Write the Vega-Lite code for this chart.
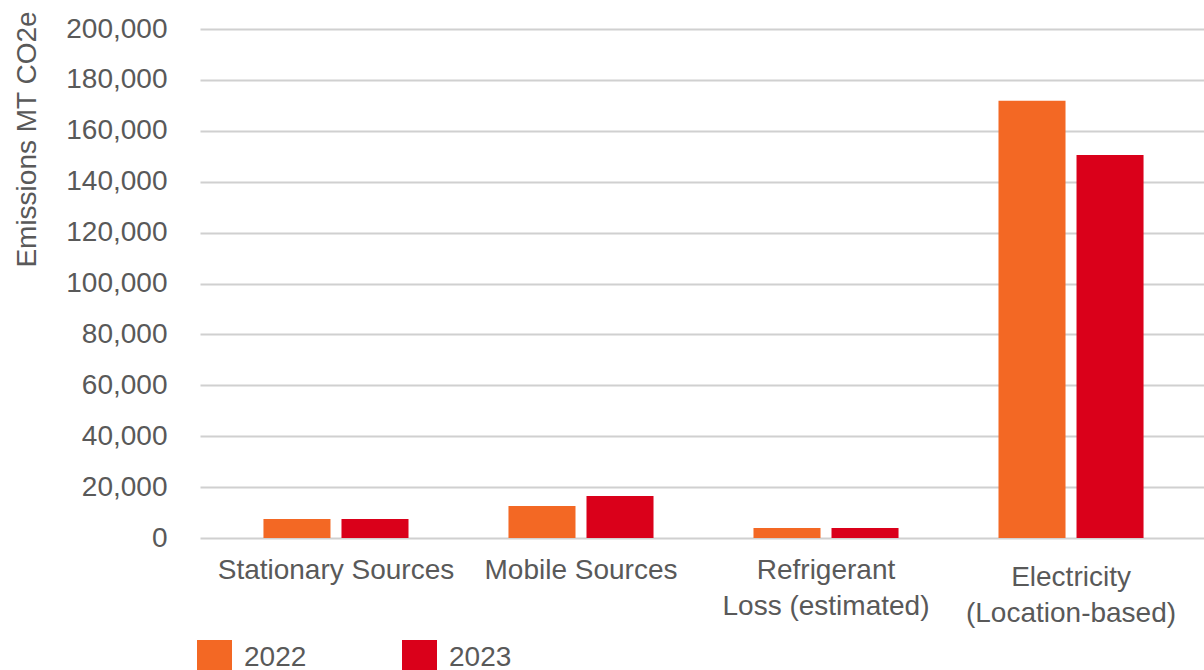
{
  "$schema": "https://vega.github.io/schema/vega-lite/v6.json",
  "width": 1007,
  "height": 509,
  "autosize": {"type": "none"},
  "padding": {"left": 197, "top": 29, "right": 0, "bottom": 132},
  "background": "white",
  "config": {
    "view": {"stroke": null},
    "font": "Liberation Sans"
  },
  "data": {
    "values": [
      {"category": "Stationary Sources", "year": "2022", "emissions": 7500},
      {"category": "Stationary Sources", "year": "2023", "emissions": 7500},
      {"category": "Mobile Sources", "year": "2022", "emissions": 12600},
      {"category": "Mobile Sources", "year": "2023", "emissions": 16500},
      {"category": "Refrigerant Loss (estimated)", "year": "2022", "emissions": 3950},
      {"category": "Refrigerant Loss (estimated)", "year": "2023", "emissions": 3950},
      {"category": "Electricity (Location-based)", "year": "2022", "emissions": 171800},
      {"category": "Electricity (Location-based)", "year": "2023", "emissions": 150500}
    ]
  },
  "mark": {"type": "bar"},
  "encoding": {
    "x": {
      "field": "category",
      "type": "nominal",
      "sort": null,
      "scale": {"paddingInner": 0.408, "paddingOuter": 0.259, "range": [3, 1010]},
      "axis": {
        "title": null,
        "domain": false,
        "ticks": false,
        "grid": false,
        "labelAngle": 0,
        "labelFont": "Liberation Sans",
        "labelFontSize": 28,
        "labelColor": "#595959",
        "labelLineHeight": 36,
        "labelBaseline": "top",
        "labelPadding": {"condition": {"test": "datum.value == 'Electricity (Location-based)'", "value": 25}, "value": 18},
        "labelExpr": "datum.value == 'Refrigerant Loss (estimated)' ? ['Refrigerant', 'Loss (estimated)'] : datum.value == 'Electricity (Location-based)' ? ['Electricity', '(Location-based)'] : datum.value",
        "labelLimit": 400
      }
    },
    "xOffset": {
      "field": "year",
      "type": "nominal",
      "scale": {"paddingInner": 0.141, "paddingOuter": 0}
    },
    "y": {
      "field": "emissions",
      "type": "quantitative",
      "scale": {"domain": [0, 200000], "nice": false},
      "axis": {
        "title": "Emissions MT CO2e",
        "titleFont": "Liberation Sans",
        "titleFontSize": 28,
        "titleFontWeight": "normal",
        "titleColor": "#595959",
        "titleX": -170,
        "titleY": 110,
        "titleAngle": -90,
        "titleAlign": "center",
        "titleBaseline": "middle",
        "values": [0, 20000, 40000, 60000, 80000, 100000, 120000, 140000, 160000, 180000, 200000],
        "format": ",.0f",
        "domain": false,
        "ticks": false,
        "labelFont": "Liberation Sans",
        "labelFontSize": 28,
        "labelColor": "#595959",
        "labelPadding": 30,
        "gridColor": "#d0d0d0",
        "gridWidth": 2
      }
    },
    "color": {
      "field": "year",
      "type": "nominal",
      "scale": {"domain": ["2022", "2023"], "range": ["#F36824", "#DA001A"]},
      "legend": {
        "title": null,
        "orient": "none",
        "legendX": 0,
        "legendY": 611,
        "direction": "horizontal",
        "symbolType": "square",
        "symbolSize": 1225,
        "symbolStrokeWidth": 0,
        "labelFont": "Liberation Sans",
        "labelFontSize": 28,
        "labelColor": "#595959",
        "labelOffset": 12,
        "columnPadding": 95
      }
    }
  }
}
